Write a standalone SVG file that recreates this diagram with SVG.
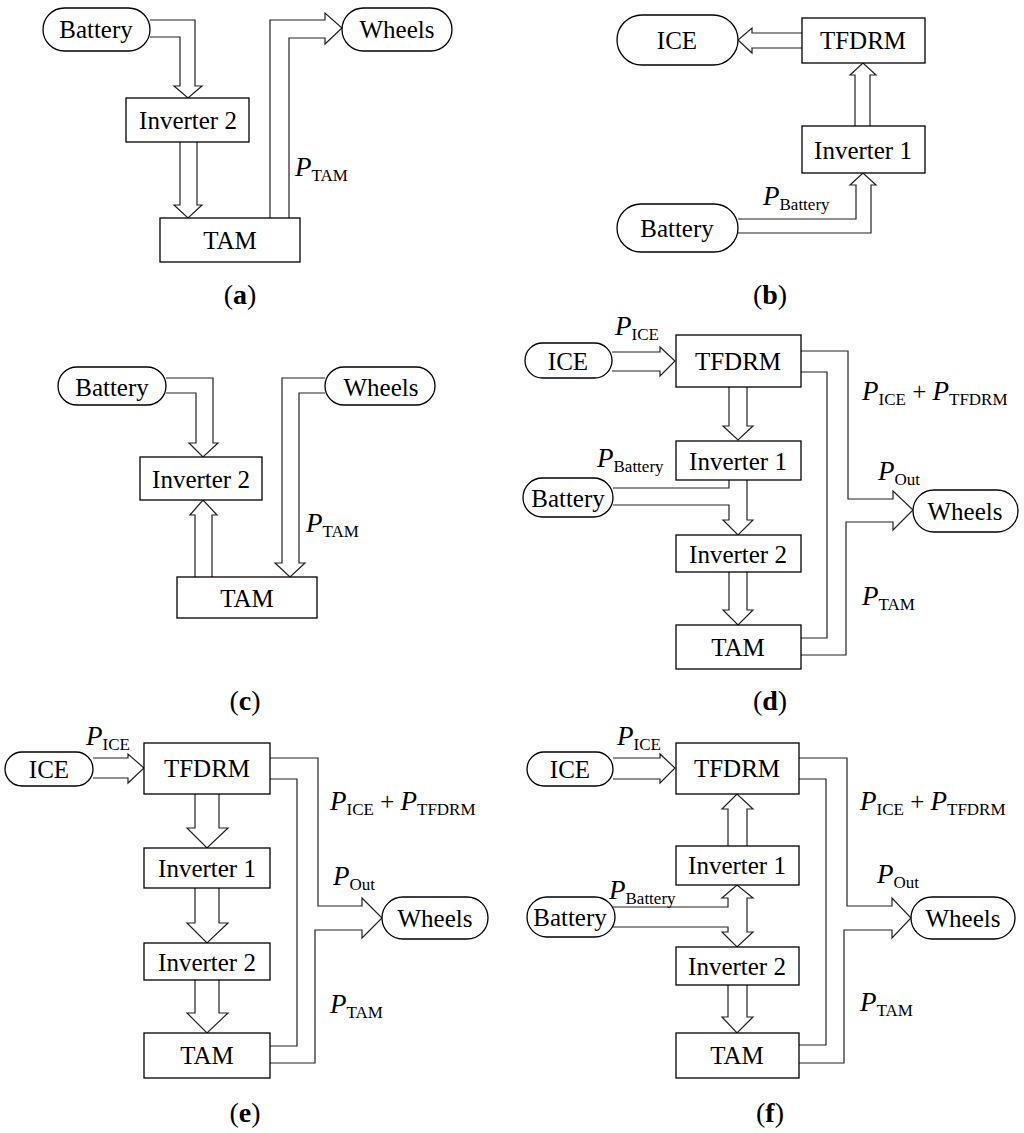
<svg xmlns="http://www.w3.org/2000/svg" width="1024" height="1133" viewBox="0 0 1024 1133" font-family="'Liberation Serif', 'DejaVu Serif', serif">
<style>
.n{fill:#fff;stroke:#000;stroke-width:1.3}
.c{fill:none;stroke:#222;stroke-width:1.2;stroke-linejoin:miter}
text{font-family:'Liberation Serif','DejaVu Serif',serif;font-size:25px;fill:#000}
.t{font-family:'Liberation Serif','DejaVu Serif',serif;text-anchor:middle;dominant-baseline:central}
.i{font-style:italic;font-size:27px}
.s{font-size:17px}
.cap{font-size:28px;text-anchor:middle}
</style>
<rect width="1024" height="1133" fill="#fff"/>
<g id="connectors">
<path class="c" d="M150,20 H195 V86 H202 L188,98 L174,86 H180 V37 H150"/>
<path class="c" d="M180,142 V205 H174 L188,218 L202,205 H197 V142"/>
<path class="c" d="M270,218 V20 H325 V13 L342,28 L325,44 V38 H289 V218"/>
<path class="c" d="M802,33 H752 V28 L738,40 L752,53 V48 H802"/>
<path class="c" d="M855,126 V75 H850 L863,63 L876,75 H870 V126"/>
<path class="c" d="M738,219 H856 V185 H850 L863,173 L876,185 H871 V233 H738"/>
<path class="c" d="M166,378 H213 V443 H218 L203,457 L189,443 H196 V393 H166"/>
<path class="c" d="M195,577 V515 H190 L203,500 L217,515 H212 V577"/>
<path class="c" d="M325,378 H282 V563 H275 L290,577 L305,563 H299 V393 H325"/>
<path class="c" d="M612,352 H660 V347 L675,361 L660,376 V371 H612"/>
<path class="c" d="M729,387 V426 H723 L738,440 L753,426 H747 V387"/>
<path class="c" d="M613,488 H729 V480"/>
<path class="c" d="M613,505 H729 V520 H723 L738,535 L753,520 H747 V480"/>
<path class="c" d="M729,572 V610 H723 L738,625 L753,610 H747 V572"/>
<path class="c" d="M801,351 H848 V499 H893 V491 L913,510 L893,530 V522 H846 V655 H801"/>
<path class="c" d="M801,372 H827 V638 H801"/>
<path class="c" d="M93,758 H128 V754 L144,768 L128,783 V778 H93"/>
<path class="c" d="M195,794 V828 H187 L207,848 L228,828 H219 V794"/>
<path class="c" d="M195,888 V923 H187 L207,943 L228,923 H219 V888"/>
<path class="c" d="M195,980 V1013 H187 L207,1033 L228,1013 H219 V980"/>
<path class="c" d="M270,758 H318 V906 H362 V898 L382,918 L362,938 V930 H315 V1063 H270"/>
<path class="c" d="M270,779 H297 V1046 H270"/>
<path class="c" d="M613,758 H660 V754 L675,768 L660,783 V779 H613"/>
<path class="c" d="M728,846 V809 H722 L737,794 L753,809 H747 V846"/>
<path class="c" d="M613,907 H728 V898 H722 L737,885 L753,898 H747 V932 H753 L737,947 L722,932 H728 V927 H613"/>
<path class="c" d="M728,985 V1017 H722 L737,1033 L753,1017 H747 V985"/>
<path class="c" d="M799,758 H847 V906 H892 V898 L911,918 L892,938 V930 H844 V1063 H799"/>
<path class="c" d="M799,779 H826 V1045 H799"/>
</g>
<g id="a-battery"><rect class="n" x="43" y="8" width="107" height="43" rx="21.5"/><text class="t" x="96" y="29">Battery</text></g>
<g id="a-inv2"><rect class="n" x="126" y="98" width="123" height="44"/><text class="t" x="188" y="120">Inverter 2</text></g>
<g id="a-tam"><rect class="n" x="160" y="218" width="140" height="44"/><text class="t" x="230" y="240">TAM</text></g>
<g id="a-wheels"><rect class="n" x="342" y="8" width="110" height="43" rx="21.5"/><text class="t" x="397" y="29">Wheels</text></g>
<text x="295" y="176"><tspan class="i">P</tspan><tspan class="s" dy="5">TAM</tspan></text>
<text class="cap" x="240" y="304">(<tspan font-weight="bold">a</tspan>)</text>
<g id="b-ice"><rect class="n" x="617" y="15" width="121" height="50" rx="25"/><text class="t" x="677" y="40">ICE</text></g>
<g id="b-tfdrm"><rect class="n" x="802" y="18" width="123" height="45"/><text class="t" x="863" y="40">TFDRM</text></g>
<g id="b-inv1"><rect class="n" x="802" y="126" width="123" height="47"/><text class="t" x="863" y="150">Inverter 1</text></g>
<g id="b-battery"><rect class="n" x="617" y="204" width="121" height="48" rx="24"/><text class="t" x="677" y="228">Battery</text></g>
<text x="763" y="205"><tspan class="i">P</tspan><tspan class="s" dy="5">Battery</tspan></text>
<text class="cap" x="770" y="304">(<tspan font-weight="bold">b</tspan>)</text>
<g id="c-battery"><rect class="n" x="58" y="367" width="108" height="38" rx="19"/><text class="t" x="112" y="387">Battery</text></g>
<g id="c-inv2"><rect class="n" x="140" y="457" width="122" height="43"/><text class="t" x="201" y="479">Inverter 2</text></g>
<g id="c-tam"><rect class="n" x="177" y="577" width="140" height="41"/><text class="t" x="247" y="598">TAM</text></g>
<g id="c-wheels"><rect class="n" x="325" y="367" width="110" height="38" rx="19"/><text class="t" x="381" y="387">Wheels</text></g>
<text x="306" y="532"><tspan class="i">P</tspan><tspan class="s" dy="5">TAM</tspan></text>
<text class="cap" x="245" y="710">(<tspan font-weight="bold">c</tspan>)</text>
<g id="d-ice"><rect class="n" x="525" y="343" width="87" height="35" rx="17.5"/><text class="t" x="568" y="361">ICE</text></g>
<g id="d-tfdrm"><rect class="n" x="676" y="335" width="125" height="52"/><text class="t" x="738" y="361">TFDRM</text></g>
<g id="d-inv1"><rect class="n" x="676" y="441" width="125" height="39"/><text class="t" x="738" y="461">Inverter 1</text></g>
<g id="d-battery"><rect class="n" x="523" y="478" width="90" height="39" rx="19.5"/><text class="t" x="568" y="498">Battery</text></g>
<g id="d-inv2"><rect class="n" x="676" y="535" width="125" height="37"/><text class="t" x="738" y="554">Inverter 2</text></g>
<g id="d-tam"><rect class="n" x="676" y="625" width="125" height="44"/><text class="t" x="738" y="647">TAM</text></g>
<g id="d-wheels"><rect class="n" x="913" y="490" width="105" height="42" rx="21"/><text class="t" x="965" y="511">Wheels</text></g>
<text x="615" y="335"><tspan class="i">P</tspan><tspan class="s" dy="5">ICE</tspan></text>
<text x="597" y="467"><tspan class="i">P</tspan><tspan class="s" dy="5">Battery</tspan></text>
<text x="862" y="400"><tspan class="i">P</tspan><tspan class="s" dy="5">ICE</tspan><tspan dy="-5"> + </tspan><tspan class="i">P</tspan><tspan class="s" dy="5">TFDRM</tspan></text>
<text x="878" y="480"><tspan class="i">P</tspan><tspan class="s" dy="5">Out</tspan></text>
<text x="862" y="605"><tspan class="i">P</tspan><tspan class="s" dy="5">TAM</tspan></text>
<text class="cap" x="770" y="710">(<tspan font-weight="bold">d</tspan>)</text>
<g id="e-ice"><rect class="n" x="5" y="752" width="88" height="34" rx="17"/><text class="t" x="49" y="769">ICE</text></g>
<g id="e-tfdrm"><rect class="n" x="144" y="743" width="126" height="51"/><text class="t" x="207" y="768">TFDRM</text></g>
<g id="e-inv1"><rect class="n" x="144" y="848" width="126" height="40"/><text class="t" x="207" y="868">Inverter 1</text></g>
<g id="e-inv2"><rect class="n" x="144" y="943" width="126" height="37"/><text class="t" x="207" y="962">Inverter 2</text></g>
<g id="e-tam"><rect class="n" x="144" y="1033" width="126" height="45"/><text class="t" x="207" y="1055">TAM</text></g>
<g id="e-wheels"><rect class="n" x="382" y="897" width="106" height="42" rx="21"/><text class="t" x="435" y="918">Wheels</text></g>
<text x="86" y="745"><tspan class="i">P</tspan><tspan class="s" dy="5">ICE</tspan></text>
<text x="330" y="810"><tspan class="i">P</tspan><tspan class="s" dy="5">ICE</tspan><tspan dy="-5"> + </tspan><tspan class="i">P</tspan><tspan class="s" dy="5">TFDRM</tspan></text>
<text x="333" y="885"><tspan class="i">P</tspan><tspan class="s" dy="5">Out</tspan></text>
<text x="330" y="1013"><tspan class="i">P</tspan><tspan class="s" dy="5">TAM</tspan></text>
<text class="cap" x="245" y="1122">(<tspan font-weight="bold">e</tspan>)</text>
<g id="f-ice"><rect class="n" x="527" y="752" width="86" height="34" rx="17"/><text class="t" x="570" y="769">ICE</text></g>
<g id="f-tfdrm"><rect class="n" x="676" y="743" width="123" height="51"/><text class="t" x="737" y="768">TFDRM</text></g>
<g id="f-inv1"><rect class="n" x="676" y="846" width="123" height="39"/><text class="t" x="737" y="865">Inverter 1</text></g>
<g id="f-battery"><rect class="n" x="527" y="897" width="88" height="40" rx="20"/><text class="t" x="570" y="917">Battery</text></g>
<g id="f-inv2"><rect class="n" x="676" y="947" width="123" height="38"/><text class="t" x="737" y="966">Inverter 2</text></g>
<g id="f-tam"><rect class="n" x="676" y="1033" width="123" height="45"/><text class="t" x="737" y="1055">TAM</text></g>
<g id="f-wheels"><rect class="n" x="911" y="897" width="104" height="42" rx="21"/><text class="t" x="963" y="918">Wheels</text></g>
<text x="617" y="745"><tspan class="i">P</tspan><tspan class="s" dy="5">ICE</tspan></text>
<text x="609" y="899"><tspan class="i">P</tspan><tspan class="s" dy="5">Battery</tspan></text>
<text x="860" y="810"><tspan class="i">P</tspan><tspan class="s" dy="5">ICE</tspan><tspan dy="-5"> + </tspan><tspan class="i">P</tspan><tspan class="s" dy="5">TFDRM</tspan></text>
<text x="877" y="883"><tspan class="i">P</tspan><tspan class="s" dy="5">Out</tspan></text>
<text x="860" y="1011"><tspan class="i">P</tspan><tspan class="s" dy="5">TAM</tspan></text>
<text class="cap" x="770" y="1122">(<tspan font-weight="bold">f</tspan>)</text>
</svg>
